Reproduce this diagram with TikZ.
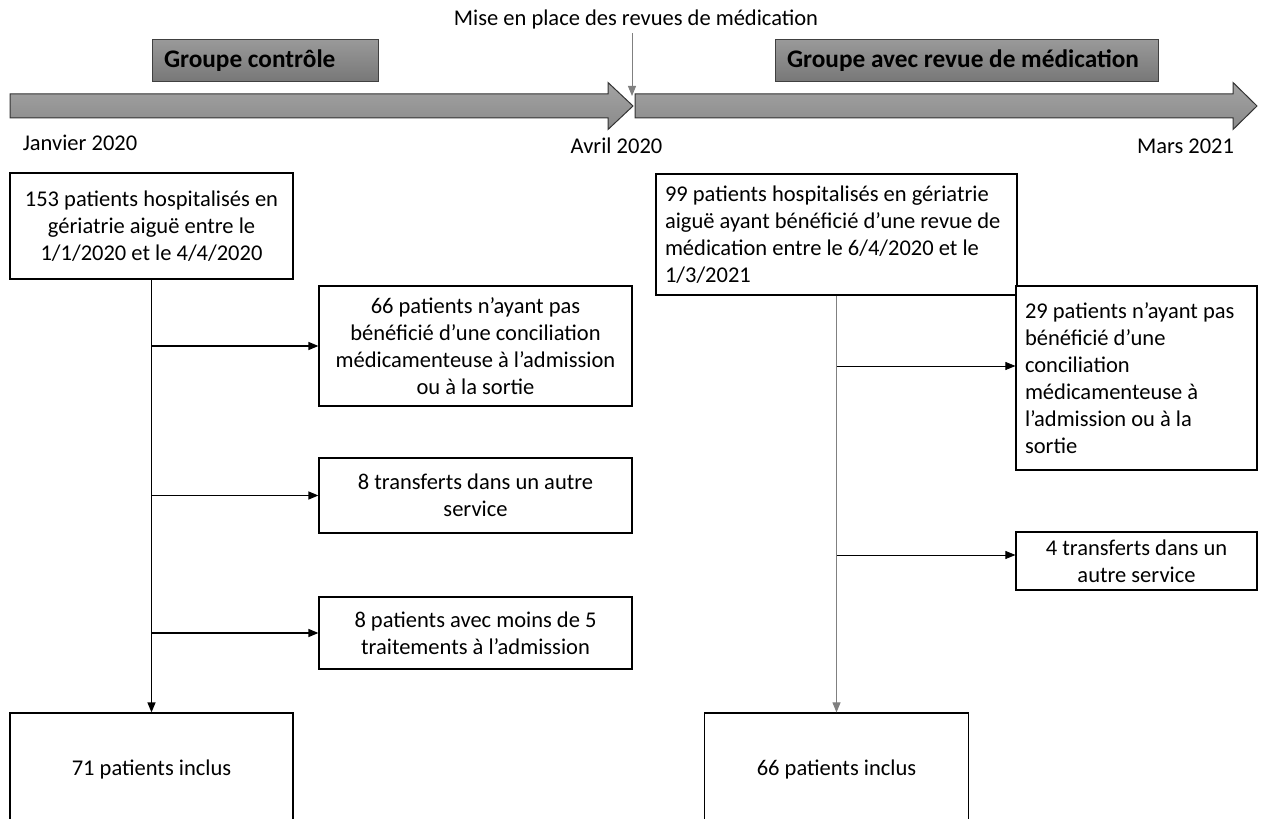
\documentclass[tikz,border=0pt]{standalone}
\usepackage{fontspec}
\setmainfont{Carlito}
\usetikzlibrary{arrows.meta}
\definecolor{arrtop}{HTML}{A3A3A3}
\definecolor{arrbot}{HTML}{8A8A8A}
\definecolor{grptop}{HTML}{999999}
\definecolor{grpbot}{HTML}{777777}
\tikzset{
block/.style = {draw, line width=1.2pt, fill=white, align=center, inner sep=0pt},
lblock/.style = {block, align=flush left, inner xsep=9pt},
grp/.style = {draw=black!75, line width=1pt, top color=grptop, bottom color=grpbot,
               minimum height=42pt, align=flush left, inner xsep=12pt,
               font=\fontsize{25.3}{30}\selectfont\bfseries},
tl/.style = {draw=black!80, line width=1pt, top color=arrtop, bottom color=arrbot},
date/.style = {inner sep=0pt},
input/.style = {coordinate}
}

\begin{document}
\begin{tikzpicture}[x=1pt, y=1pt, node distance=100pt,
    >={Triangle[length=10pt,width=8pt]},
    font=\fontsize{22.5}{27}\selectfont]
    \useasboundingbox (0,0) rectangle (1261,819);
    \clip (0,0) rectangle (1261,819);

    % frise chronologique
    \draw [tl] (10,725) -- (608,725) -- (608,736.5) -- (633,713)
        -- (608,689.5) -- (608,701) -- (10,701) -- cycle;
    \draw [tl] (635,725) -- (1233,725) -- (1233,736.5) -- (1257,713)
        -- (1233,689.5) -- (1233,701) -- (635,701) -- cycle;

    \node [name=mise] at (636,799) (mise) {Mise en place des revues de médication};
    \node [input, name=jct] at (632,723) (jct) {};
    \draw [->, gray, line width=1pt] (mise.south -| jct) -- (jct);

    \node [grp, text width=202pt] at (265,758) (gctrl) {Groupe contrôle};
    \node [grp, text width=359pt] at (966.5,758) (grev) {Groupe avec revue de médication};

    \node [date] at (80,676) (jan) {Janvier 2020};
    \node [date] at (616.5,673) (avr) {Avril 2020};
    \node [date] at (1185.5,673) (mar) {Mars 2021};

    % groupe controle
    \node [block, minimum width=283pt, minimum height=106pt] at (151.5,593) (b153)
    {153 patients hospitalisés en\\ gériatrie aiguë entre le\\ 1/1/2020 et le 4/4/2020};
    \node [block, minimum width=313pt, minimum height=120pt] at (475.5,473) (b66)
    {66 patients n’ayant pas\\ bénéficié d’une conciliation\\ médicamenteuse à l’admission\\ ou à la sortie};
    \node [block, below of=b66, node distance=149.5pt,
        minimum width=313pt, minimum height=75pt] (b8t)
    {8 transferts dans un autre\\ service};
    \node [block, below of=b8t, node distance=137.5pt,
        minimum width=313pt, minimum height=72pt] (b8p)
    {8 patients avec moins de 5\\ traitements à l’admission};
    \node [block, below of=b153, node distance=544pt,
        minimum width=283pt, minimum height=114pt] (b71) {71 patients inclus};

    \draw [->, line width=1.3pt] (b153) -- (b71);
    \draw [->, line width=1.3pt] (b153.south |- b66.west) -- (b66.west);
    \draw [->, line width=1.3pt] (b153.south |- b8t.west) -- (b8t.west);
    \draw [->, line width=1.3pt] (b153.south |- b8p.west) -- (b8p.west);

    % groupe revue de medication
    \node [lblock, text width=343pt, minimum height=121pt] at (836.5,584.5) (b99)
    {99 patients hospitalisés en gériatrie\\ aiguë ayant bénéficié d’une revue de\\ médication entre le 6/4/2020 et le\\ 1/3/2021};
    \node [lblock, text width=223pt, minimum height=184pt] at (1136.5,441) (b29)
    {29 patients n’ayant pas\\ bénéficié d’une\\ conciliation\\ médicamenteuse à\\ l’admission ou à la\\ sortie};
    \node [block, below of=b29, node distance=183pt,
        minimum width=241pt, minimum height=58pt] (b4t)
    {4 transferts dans un\\ autre service};
    \node [block, below of=b99, node distance=535.5pt,
        minimum width=264pt, minimum height=114pt] (b66i) {66 patients inclus};

    \node [input, name=r29] at ([yshift=12pt]b29.west) (r29) {};
    \node [input, name=r4] at ([yshift=6pt]b4t.west) (r4) {};

    \draw [->, gray, line width=1pt] (b99) -- (b66i);
    \draw [->, line width=0.8pt] (b99.south |- r29) -- (r29);
    \draw [->, line width=0.8pt] (b99.south |- r4) -- (r4);

\end{tikzpicture}
\end{document}
